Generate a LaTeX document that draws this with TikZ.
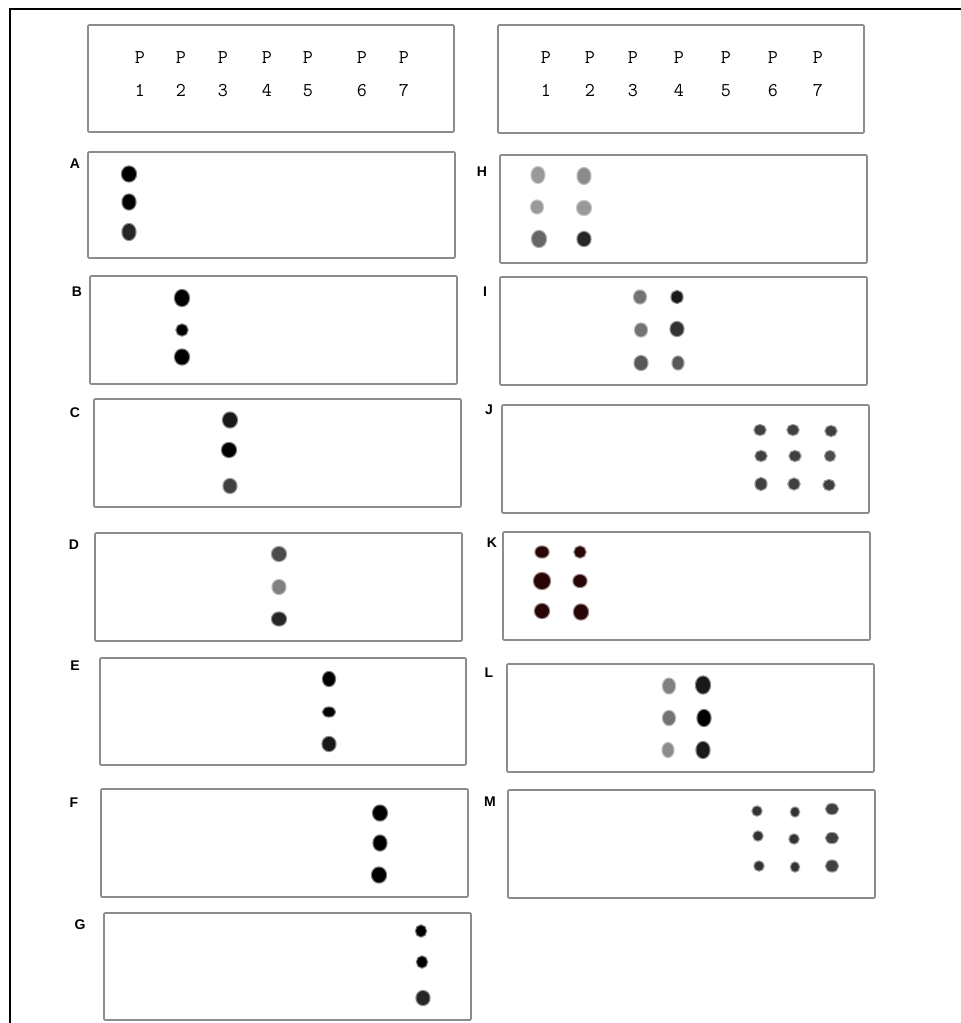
\documentclass[tikz,border=0pt]{standalone}
\usepackage{fontspec}
\newfontfamily\tagfont{Liberation Sans}
\usetikzlibrary{shapes.geometric}

\begin{document}
\begin{tikzpicture}[
    x=1pt, y=-1pt,
    every node/.style={inner sep=0pt},
    plate/.style={draw=black!45, line width=1.6pt, rounded corners=1pt},
    lane/.style={font=\fontsize{19.5}{33}\selectfont\ttfamily, align=center},
    tag/.style={font=\tagfont\bfseries\fontsize{14}{14}\selectfont},
    spot/.style={ellipse, fill=#1, draw=#1, draw opacity=0.5, line width=2.4pt},
    spot/.default=black,
    sz/.style 2 args={minimum width=#1pt+2pt, minimum height=#2pt+2pt}
]
\useasboundingbox (0,0) rectangle (961,1023);

% Outer frame (left and top only)
\draw[line width=1.4pt] (10,1023) -- (10,9) -- (961,9);

% Header boxes with lane numbers
\draw[plate] (88,25) rectangle (454,132);
\draw[plate] (498,25) rectangle (864,133);

\node[lane] (lp1) at (140,74) {P\\1};
\node[lane] (lp2) at (181,74) {P\\2};
\node[lane] (lp3) at (223,74) {P\\3};
\node[lane] (lp4) at (267,74) {P\\4};
\node[lane] (lp5) at (308,74) {P\\5};
\node[lane] (lp6) at (362,74) {P\\6};
\node[lane] (lp7) at (404,74) {P\\7};

\node[lane] (rp1) at (546,74) {P\\1};
\node[lane] (rp2) at (590,74) {P\\2};
\node[lane] (rp3) at (633,74) {P\\3};
\node[lane] (rp4) at (679,74) {P\\4};
\node[lane] (rp5) at (726,74) {P\\5};
\node[lane] (rp6) at (773,74) {P\\6};
\node[lane] (rp7) at (818,74) {P\\7};

% Left column plates
\draw[plate] (88,152) rectangle (455,258);
\draw[plate] (90,276) rectangle (457,384);
\draw[plate] (94,399) rectangle (461,507);
\draw[plate] (95,533) rectangle (462,641);
\draw[plate] (100,658) rectangle (466,765);
\draw[plate] (101,789) rectangle (468,897);
\draw[plate] (104,913) rectangle (471,1020);

\node[tag] (tA) at (75,164) {A};
\node[tag] (tB) at (77,292) {B};
\node[tag] (tC) at (75,413) {C};
\node[tag] (tD) at (74,545) {D};
\node[tag] (tE) at (75,666) {E};
\node[tag] (tF) at (74,803) {F};
\node[tag] (tG) at (80,925) {G};

% Right column plates
\draw[plate] (500,155) rectangle (867,263);
\draw[plate] (500,277) rectangle (867,385);
\draw[plate] (502,405) rectangle (869,513);
\draw[plate] (503,532) rectangle (870,640);
\draw[plate] (507,664) rectangle (874,772);
\draw[plate] (508,790) rectangle (875,898);

\node[tag] (tH) at (482,172) {H};
\node[tag] (tI) at (485,292) {I};
\node[tag] (tJ) at (489,410) {J};
\node[tag] (tK) at (492,543) {K};
\node[tag] (tL) at (489,673) {L};
\node[tag] (tM) at (490,802) {M};

% A
\node[spot, sz={12}{13}] (a1) at (129,174) {};
\node[spot, sz={11}{13}] (a2) at (129,202) {};
\node[spot=black!85, sz={11}{14}] (a3) at (129,232) {};
% B
\node[spot, sz={12}{14}] (b1) at (182,298) {};
\node[spot, sz={9}{9}] (b2) at (182,330) {};
\node[spot, sz={12}{13}] (b3) at (182,357) {};
% C
\node[spot=black!90, sz={12}{13}] (c1) at (230,420) {};
\node[spot, sz={12}{12}] (c2) at (229,450) {};
\node[spot=black!75, sz={11}{12}] (c3) at (230,486) {};
% D
\node[spot=black!70, sz={12}{12}] (d1) at (279,554) {};
\node[spot=black!50, sz={11}{12}] (d2) at (279,587) {};
\node[spot=black!85, sz={12}{11}] (d3) at (279,619) {};
% E
\node[spot, sz={10}{12}] (e1) at (329,679) {};
\node[spot, sz={10}{7}] (e2) at (329,712) {};
\node[spot=black!90, sz={11}{12}] (e3) at (329,744) {};
% F
\node[spot, sz={12}{13}] (f1) at (380,813) {};
\node[spot, sz={11}{13}] (f2) at (380,843) {};
\node[spot, sz={12}{13}] (f3) at (379,875) {};
% G
\node[spot, sz={8}{9}] (g1) at (421,931) {};
\node[spot, sz={8}{9}] (g2) at (422,962) {};
\node[spot=black!85, sz={11}{12}] (g3) at (423,998) {};

% H
\node[spot=black!40, sz={11}{14}] (h1) at (538,175) {};
\node[spot=black!45, sz={11}{14}] (h2) at (584,176) {};
\node[spot=black!40, sz={10}{11}] (h3) at (537,207) {};
\node[spot=black!40, sz={12}{12}] (h4) at (584,208) {};
\node[spot=black!60, sz={12}{14}] (h5) at (539,239) {};
\node[spot=black!85, sz={11}{12}] (h6) at (584,239) {};
% I
\node[spot=black!55, sz={10}{11}] (i1) at (640,297) {};
\node[spot=black!90, sz={9}{10}] (i2) at (677,297) {};
\node[spot=black!55, sz={10}{11}] (i3) at (641,330) {};
\node[spot=black!80, sz={11}{12}] (i4) at (677,329) {};
\node[spot=black!65, sz={11}{12}] (i5) at (641,363) {};
\node[spot=black!65, sz={9}{11}] (i6) at (678,363) {};
% J
\node[spot=black!75, sz={9}{8}] (j1) at (760,430) {};
\node[spot=black!75, sz={9}{8}] (j2) at (793,430) {};
\node[spot=black!75, sz={9}{8}] (j3) at (831,431) {};
\node[spot=black!75, sz={9}{8}] (j4) at (761,456) {};
\node[spot=black!75, sz={9}{8}] (j5) at (795,456) {};
\node[spot=black!70, sz={8}{8}] (j6) at (830,456) {};
\node[spot=black!75, sz={9}{10}] (j7) at (761,484) {};
\node[spot=black!75, sz={9}{9}] (j8) at (794,484) {};
\node[spot=black!75, sz={9}{8}] (j9) at (829,485) {};
% K
\definecolor{blot}{HTML}{2A0505}
\node[spot=blot, sz={11}{9}] (k1) at (542,552) {};
\node[spot=blot, sz={9}{9}] (k2) at (580,552) {};
\node[spot=blot, sz={14}{14}] (k3) at (542,581) {};
\node[spot=blot, sz={11}{10}] (k4) at (580,581) {};
\node[spot=blot, sz={12}{12}] (k5) at (542,611) {};
\node[spot=blot, sz={12}{13}] (k6) at (581,612) {};
% L
\node[spot=black!50, sz={10}{13}] (l1) at (669,686) {};
\node[spot=black!90, sz={12}{15}] (l2) at (703,685) {};
\node[spot=black!55, sz={10}{12}] (l3) at (669,718) {};
\node[spot, sz={11}{14}] (l4) at (704,718) {};
\node[spot=black!45, sz={9}{12}] (l5) at (668,750) {};
\node[spot=black!90, sz={11}{14}] (l6) at (703,750) {};
% M
\node[spot=black!80, sz={7}{7}] (m1) at (757,811) {};
\node[spot=black!80, sz={6}{7}] (m2) at (795,812) {};
\node[spot=black!75, sz={10}{8}] (m3) at (832,809) {};
\node[spot=black!80, sz={7}{7}] (m4) at (758,836) {};
\node[spot=black!80, sz={7}{7}] (m5) at (794,839) {};
\node[spot=black!75, sz={10}{8}] (m6) at (832,838) {};
\node[spot=black!80, sz={7}{7}] (m7) at (759,866) {};
\node[spot=black!80, sz={6}{7}] (m8) at (795,867) {};
\node[spot=black!75, sz={10}{9}] (m9) at (832,866) {};

\end{tikzpicture}
\end{document}
